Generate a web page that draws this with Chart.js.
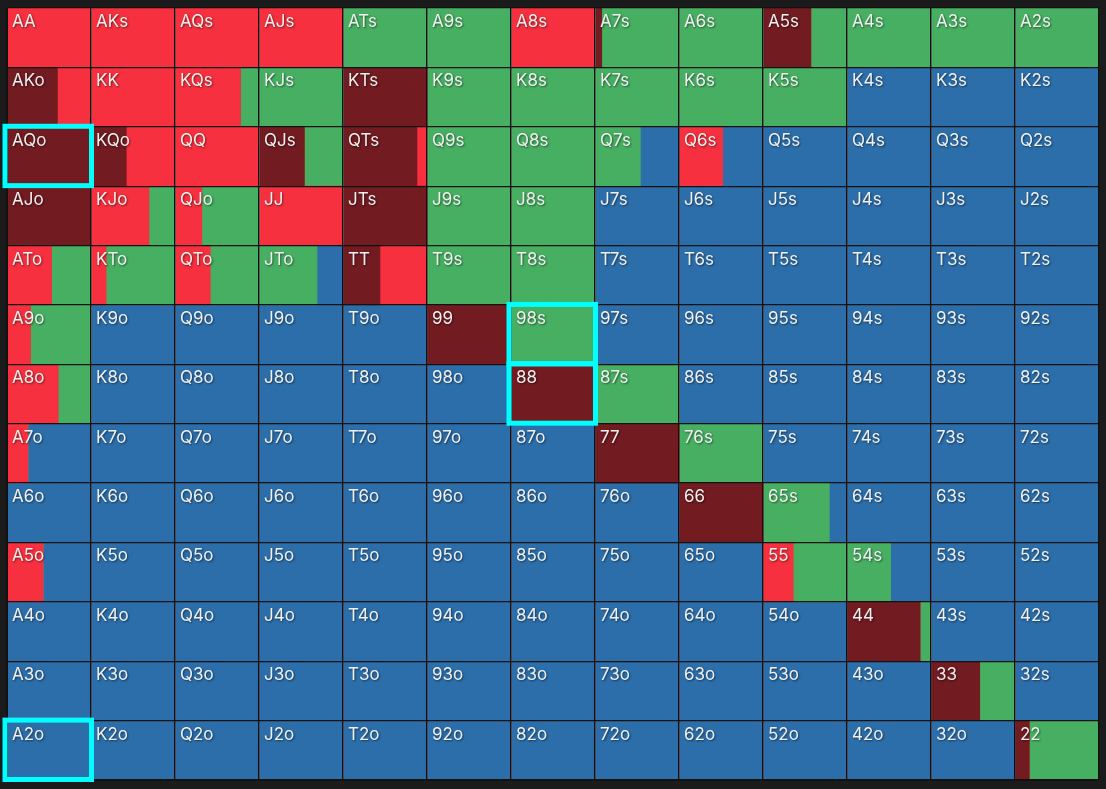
<!DOCTYPE html>
<html>
<head>
<meta charset="utf-8">
<script src="https://cdn.jsdelivr.net/npm/chart.js@4"></script>
<style>
  html, body { margin: 0; padding: 0; background: #1b1b1c; }
  canvas { display: block; }
</style>
</head>
<body>
<canvas id="rangeChart" width="1106" height="789"></canvas>
<script>
// Hand ranks, rows and columns of the grid
const ranks = ["A", "K", "Q", "J", "T", "9", "8", "7", "6", "5", "4", "3", "2"];

// Frequencies per hand (row = first rank, col = second rank)
const allinFreq = [
  [0, 0, 0, 0, 0, 0, 0, 0.08, 0, 0.57, 0, 0, 0],
  [0.6, 0, 0, 0, 1, 0, 0, 0, 0, 0, 0, 0, 0],
  [1, 0.42, 0, 0.54, 0.88, 0, 0, 0, 0, 0, 0, 0, 0],
  [1, 0, 0, 0, 1, 0, 0, 0, 0, 0, 0, 0, 0],
  [0, 0, 0, 0, 0.44, 0, 0, 0, 0, 0, 0, 0, 0],
  [0, 0, 0, 0, 0, 1, 0, 0, 0, 0, 0, 0, 0],
  [0, 0, 0, 0, 0, 0, 1, 0, 0, 0, 0, 0, 0],
  [0, 0, 0, 0, 0, 0, 0, 1, 0, 0, 0, 0, 0],
  [0, 0, 0, 0, 0, 0, 0, 0, 1, 0, 0, 0, 0],
  [0, 0, 0, 0, 0, 0, 0, 0, 0, 0, 0, 0, 0],
  [0, 0, 0, 0, 0, 0, 0, 0, 0, 0, 0.87, 0, 0],
  [0, 0, 0, 0, 0, 0, 0, 0, 0, 0, 0, 0.58, 0],
  [0, 0, 0, 0, 0, 0, 0, 0, 0, 0, 0, 0, 0.17],
];
const raiseFreq = [
  [1, 1, 1, 1, 0, 0, 1, 0, 0, 0, 0, 0, 0],
  [0.4, 1, 0.78, 0, 0, 0, 0, 0, 0, 0, 0, 0, 0],
  [0, 0.58, 1, 0, 0.12, 0, 0, 0, 0.52, 0, 0, 0, 0],
  [0, 0.69, 0.32, 1, 0, 0, 0, 0, 0, 0, 0, 0, 0],
  [0.53, 0.18, 0.42, 0, 0.56, 0, 0, 0, 0, 0, 0, 0, 0],
  [0.28, 0, 0, 0, 0, 0, 0, 0, 0, 0, 0, 0, 0],
  [0.61, 0, 0, 0, 0, 0, 0, 0, 0, 0, 0, 0, 0],
  [0.25, 0, 0, 0, 0, 0, 0, 0, 0, 0, 0, 0, 0],
  [0, 0, 0, 0, 0, 0, 0, 0, 0, 0, 0, 0, 0],
  [0.43, 0, 0, 0, 0, 0, 0, 0, 0, 0.36, 0, 0, 0],
  [0, 0, 0, 0, 0, 0, 0, 0, 0, 0, 0, 0, 0],
  [0, 0, 0, 0, 0, 0, 0, 0, 0, 0, 0, 0, 0],
  [0, 0, 0, 0, 0, 0, 0, 0, 0, 0, 0, 0, 0],
];
const callFreq = [
  [0, 0, 0, 0, 1, 1, 0, 0.92, 1, 0.43, 1, 1, 1],
  [0, 0, 0.22, 1, 0, 1, 1, 1, 1, 1, 0, 0, 0],
  [0, 0, 0, 0.46, 0, 1, 1, 0.54, 0, 0, 0, 0, 0],
  [0, 0.31, 0.68, 0, 0, 1, 1, 0, 0, 0, 0, 0, 0],
  [0.47, 0.82, 0.58, 0.69, 0, 1, 1, 0, 0, 0, 0, 0, 0],
  [0.72, 0, 0, 0, 0, 0, 1, 0, 0, 0, 0, 0, 0],
  [0.39, 0, 0, 0, 0, 0, 0, 1, 0, 0, 0, 0, 0],
  [0, 0, 0, 0, 0, 0, 0, 0, 1, 0, 0, 0, 0],
  [0, 0, 0, 0, 0, 0, 0, 0, 0, 0.79, 0, 0, 0],
  [0, 0, 0, 0, 0, 0, 0, 0, 0, 0.64, 0.52, 0, 0],
  [0, 0, 0, 0, 0, 0, 0, 0, 0, 0, 0.13, 0, 0],
  [0, 0, 0, 0, 0, 0, 0, 0, 0, 0, 0, 0.42, 0],
  [0, 0, 0, 0, 0, 0, 0, 0, 0, 0, 0, 0, 0.83],
];
// Highlighted hands [row, col]
const highlighted = [[2, 0], [5, 6], [6, 6], [12, 0]];

const actions = [
  { name: "All-in", freq: allinFreq, color: "#721b21" },
  { name: "Raise", freq: raiseFreq, color: "#f6303e" },
  { name: "Call", freq: callFreq, color: "#47af62" },
  { name: "Fold", freq: null, color: "#2c6eaa" },
];

function handName(r, c) {
  if (r === c) return ranks[r] + ranks[c];
  if (c > r) return ranks[r] + ranks[c] + "s";
  return ranks[c] + ranks[r] + "o";
}

// One stacked dataset per column and action; each column's segments sum to 1
const datasets = [];
for (let c = 0; c < 13; c++) {
  actions.forEach((a) => {
    const data = ranks.map((_, r) => {
      if (a.freq) return a.freq[r][c];
      return Math.max(0, 1 - allinFreq[r][c] - raiseFreq[r][c] - callFreq[r][c]);
    });
    datasets.push({
      label: a.name + " " + c,
      data: data,
      backgroundColor: a.color,
      borderWidth: 0,
      barPercentage: 1,
      categoryPercentage: 1,
    });
  });
}

// Hand names and highlight boxes, drawn on top of the grid
const cellOverlay = {
  id: "cellOverlay",
  afterDraw(chart) {
    const ctx = chart.ctx;
    const x = chart.scales.x;
    const y = chart.scales.y;
    const half = (y.getPixelForValue(1) - y.getPixelForValue(0)) / 2;
    ctx.save();
    ctx.font = "400 17px Inter, 'Noto Sans', sans-serif";
    ctx.textBaseline = "alphabetic";
    ctx.fillStyle = "#f0f0f0";
    ctx.shadowColor = "rgba(0,0,0,0.5)";
    ctx.shadowBlur = 2;
    ctx.shadowOffsetX = 1;
    ctx.shadowOffsetY = 1;
    for (let r = 0; r < 13; r++) {
      const top = y.getPixelForValue(r) - half;
      for (let c = 0; c < 13; c++) {
        const left = x.getPixelForValue(c);
        ctx.fillText(handName(r, c), left + 5, top + 19);
      }
    }
    ctx.restore();

    ctx.save();
    ctx.strokeStyle = "#00ffff";
    ctx.lineWidth = 5;
    highlighted.forEach(([r, c]) => {
      const left = x.getPixelForValue(c) - 2;
      const right = x.getPixelForValue(c + 1) + 0.5;
      const top = y.getPixelForValue(r) - half - 0.5;
      const bottom = y.getPixelForValue(r) + half - 0.5;
      ctx.strokeRect(left, top, right - left, bottom - top);
    });
    ctx.restore();
  },
};

new Chart(document.getElementById("rangeChart").getContext("2d"), {
  type: "bar",
  data: {
    labels: ranks,
    datasets: datasets,
  },
  options: {
    indexAxis: "y",
    responsive: false,
    animation: false,
    layout: {
      padding: { left: 7, right: 7, top: 8, bottom: 9 },
    },
    scales: {
      x: {
        type: "linear",
        stacked: true,
        min: 0,
        max: 13,
        ticks: { display: false, stepSize: 1 },
        grid: { color: "#121212", lineWidth: 1.2, drawTicks: false, z: 1 },
        border: { color: "#121212", z: 1 },
      },
      y: {
        type: "category",
        stacked: true,
        ticks: { display: false },
        grid: { color: "#121212", lineWidth: 1.2, drawTicks: false, offset: true, z: 1 },
        border: { color: "#121212", z: 1 },
      },
    },
    plugins: {
      legend: { display: false },
      tooltip: { enabled: false },
    },
  },
  plugins: [cellOverlay],
});
</script>
</body>
</html>
